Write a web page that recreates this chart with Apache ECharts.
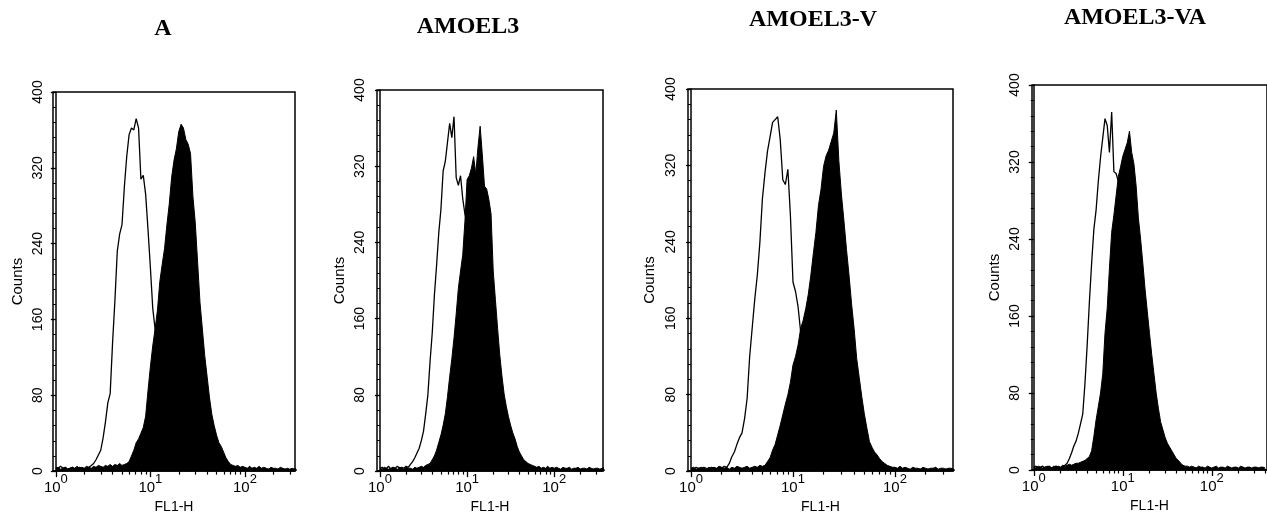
<!DOCTYPE html>
<html>
<head>
<meta charset="utf-8">
<script src="https://cdn.jsdelivr.net/npm/echarts@6/dist/echarts.min.js"></script>
<style>
  html, body { margin: 0; padding: 0; background: #fff; }
  #chart { width: 1267px; height: 519px; }
</style>
</head>
<body>
<div id="chart"></div>
<script>
// ---- Data ----
// bin positions on the FL1-H axis, as log10(FL1-H), 0.025 apart
const logFL1 = [
  0.000,0.025,0.050,0.075,0.100,0.125,0.150,0.175,0.200,0.225,
  0.250,0.275,0.300,0.325,0.350,0.375,0.400,0.425,0.450,0.475,
  0.500,0.525,0.550,0.575,0.600,0.625,0.650,0.675,0.700,0.725,
  0.750,0.775,0.800,0.825,0.850,0.875,0.900,0.925,0.950,0.975,
  1.000,1.025,1.050,1.075,1.100,1.125,1.150,1.175,1.200,1.225,
  1.250,1.275,1.300,1.325,1.350,1.375,1.400,1.425,1.450,1.475,
  1.500,1.525,1.550,1.575,1.600,1.625,1.650,1.675,1.700,1.725,
  1.750,1.775,1.800,1.825,1.850,1.875,1.900,1.925,1.950,1.975,
  2.000,2.025,2.050,2.075,2.100,2.125,2.150,2.175,2.200,2.225,
  2.250,2.275,2.300,2.325,2.350,2.375,2.400,2.425,2.450,2.475,
  2.500,2.525,2.550,2.575,2.600
];

const panelTitles = ['A', 'AMOEL3', 'AMOEL3-V', 'AMOEL3-VA'];

// open (control) histograms, counts per bin
const controlA = [
  4,3,5,3,4,2,3,4,2,3,
  4,3,2,3,4,6,8,12,17,22,
  35,52,72,82,135,180,232,250,260,300,
  332,355,362,360,372,362,308,312,292,255,
  215,172,150,130,112,98,85,72,62,52,
  45,37,30,25,20,16,12,10,8,6,
  5,3,2,3,2,3,2,3,2,1,
  2,1,2,1,2,1,2,1,1,2,
  1,2,1,1,2,1,1,2,1,1,
  2,1,1,1,2,1,1,2,1,1,
  1,2,1,1,1
];
const controlAMOEL3 = [
  3,4,2,3,5,2,4,3,5,3,
  4,3,5,4,7,10,14,19,24,32,
  42,60,80,115,145,185,216,250,275,315,
  325,345,365,350,372,308,300,310,286,270,
  260,245,230,215,200,185,170,155,140,125,
  110,95,80,70,58,48,40,32,25,20,
  15,12,9,7,6,5,4,3,3,2,
  3,2,3,2,1,2,1,2,1,2,
  1,2,1,1,2,1,2,1,1,2,
  1,1,2,1,1,2,1,1,2,1,
  1,1,2,1,1
];
const controlV = [
  3,2,4,3,2,4,3,2,4,3,
  2,4,3,5,4,8,15,20,28,35,
  40,55,76,120,150,180,205,239,285,312,
  335,350,365,368,371,347,305,300,316,267,
  198,188,172,146,125,110,95,82,70,60,
  50,42,35,29,24,19,15,12,10,8,
  6,4,3,2,3,2,1,2,1,2,
  1,2,1,1,2,1,2,1,1,2,
  1,1,2,1,2,1,1,2,1,1,
  2,1,1,2,1,1,2,1,1,1,
  2,1,1,1,1
];
const controlVA = [
  3,4,2,3,4,2,3,4,2,3,
  4,3,2,3,5,7,12,18,25,30,
  38,48,58,90,130,175,215,250,270,300,
  325,345,365,358,330,372,310,308,300,275,
  250,232,215,198,180,162,145,128,110,97,
  85,72,60,50,40,32,25,20,16,13,
  10,8,6,4,3,2,3,2,1,2,
  1,2,1,2,1,1,2,1,2,1,
  1,2,1,1,2,1,1,2,1,1,
  2,1,1,2,1,1,1,2,1,1,
  1,2,1,1,1
];

// filled (stained) histograms, counts per bin
const stainedA = [
  3,4,2,3,4,2,3,4,3,5,
  3,4,3,5,4,3,5,4,6,5,
  4,6,5,7,5,7,6,8,6,7,
  8,10,16,22,30,34,40,46,58,85,
  110,132,150,170,200,218,235,260,282,310,
  328,340,358,366,362,350,345,335,290,262,
  220,178,150,122,100,78,60,48,38,30,
  26,20,14,10,7,6,5,6,4,5,
  4,3,5,3,4,3,5,3,4,3,
  2,4,3,3,2,4,3,2,3,2,
  3,2,3,2,3
];
const stainedAMOEL3 = [
  3,2,4,3,2,3,4,3,2,4,
  3,2,4,3,3,2,4,3,4,5,
  4,6,7,8,12,16,22,30,38,48,
  60,78,99,118,140,165,192,210,227,262,
  306,310,318,330,312,340,362,332,299,296,
  285,270,210,180,150,122,100,81,68,57,
  48,40,34,26,20,16,12,10,8,7,
  6,5,4,5,3,4,3,5,3,4,
  3,4,3,2,4,3,3,4,2,3,
  3,4,2,3,3,2,4,3,2,3,
  3,2,3,4,2
];
const stainedV = [
  3,4,2,3,4,3,2,4,3,4,
  3,5,4,3,4,2,4,3,5,4,
  3,4,5,3,4,5,4,6,5,6,
  10,14,22,28,38,48,59,70,80,93,
  111,120,132,149,158,170,185,205,228,250,
  278,295,319,330,336,345,354,378,325,290,
  262,232,205,175,149,118,98,78,60,45,
  31,25,20,17,13,10,8,6,5,4,
  4,3,5,3,4,3,2,4,3,3,
  2,4,3,2,3,3,4,2,3,3,
  2,3,3,2,3
];
const stainedVA = [
  3,2,4,3,2,3,4,3,2,4,
  3,4,3,5,4,5,6,5,6,7,
  7,8,9,10,12,14,20,35,52,66,
  80,100,142,168,210,247,265,285,305,315,
  326,333,340,352,330,318,295,262,240,215,
  188,165,142,120,100,80,64,50,42,34,
  28,24,20,16,12,10,7,5,4,4,
  3,4,3,2,4,3,3,2,4,3,
  2,3,4,2,3,3,2,4,3,2,
  3,3,2,4,3,2,3,3,2,3,
  3,2,3,3,2
];

// axis ticks
const xDecadeTicks = [0, 1, 2];          // labelled 10^0, 10^1, 10^2
const xMinorMultipliers = [2,3,4,5,6,7,8,9];
const yTickMin = 0, yTickMax = 400, yTickStep = 80;

// ---- Layout ----
const controls = [controlA, controlAMOEL3, controlV, controlVA];
const stained  = [stainedA, stainedAMOEL3, stainedV, stainedVA];

const layouts = [
  { left: 53,   top: 92, width: 242, height: 385, xmin: -0.03,  xmax: 2.53, titleX: 163,  titleY: 29, labelMargin: 8,  nameGap: 28 },
  { left: 377,  top: 90, width: 226, height: 385, xmin: -0.034, xmax: 2.56, titleX: 468,  titleY: 27, labelMargin: 10, nameGap: 30 },
  { left: 688,  top: 89, width: 265, height: 384, xmin: -0.03,  xmax: 2.57, titleX: 813,  titleY: 20, labelMargin: 10, nameGap: 31 },
  { left: 1032, top: 85, width: 250, height: 385, xmin: -0.02,  xmax: 2.62, titleX: 1135, titleY: 18, labelMargin: 10, nameGap: 30 }
];

const sans = '"Liberation Sans", Arial, Helvetica, sans-serif';
const serif = '"Liberation Serif", "Times New Roman", serif';

const grids = [], xAxes = [], yAxes = [], series = [], graphics = [];

layouts.forEach((L, i) => {
  grids.push({
    left: L.left, top: L.top, width: L.width, height: L.height,
    show: true, borderColor: '#000', borderWidth: 1.5, backgroundColor: 'transparent',
    containLabel: false
  });

  const minorTicks = [];
  [1, 10, 100].forEach(d => xMinorMultipliers.forEach(m => {
    const v = Math.log10(m * d);
    if (v < L.xmax) minorTicks.push(v);
  }));

  // major x axis (decades, labels, name)
  xAxes.push({
    type: 'value', gridIndex: i, position: 'bottom', min: L.xmin, max: L.xmax,
    axisLine: { show: true, onZero: false, lineStyle: { color: '#000', width: 1.5 } },
    axisTick: { show: true, customValues: xDecadeTicks, length: 6, lineStyle: { color: '#000', width: 1.3 } },
    axisLabel: {
      show: true, customValues: xDecadeTicks, margin: 2,
      formatter: v => '{b|10}{s|' + Math.round(v) + '}',
      rich: {
        b: { fontSize: 15, fontFamily: sans, color: '#000', lineHeight: 22, verticalAlign: 'bottom' },
        s: { fontSize: 13, fontFamily: sans, color: '#000', lineHeight: 13, verticalAlign: 'top' }
      }
    },
    splitLine: { show: false },
    name: 'FL1-H', nameLocation: 'middle', nameGap: 26,
    nameTextStyle: { fontSize: 14, fontFamily: sans, color: '#000' }
  });
  // minor x axis (log minor ticks)
  xAxes.push({
    type: 'value', gridIndex: i, position: 'bottom', min: L.xmin, max: L.xmax,
    axisLine: { show: false, onZero: false },
    axisTick: { show: true, customValues: minorTicks, length: 3.5, lineStyle: { color: '#000', width: 1.2 } },
    axisLabel: { show: false },
    splitLine: { show: false }
  });

  yAxes.push({
    type: 'value', gridIndex: i, min: yTickMin, max: yTickMax, interval: yTickStep,
    axisLine: { show: true, lineStyle: { color: '#000', width: 1.5 } },
    axisTick: { show: true, length: 5, lineStyle: { color: '#000', width: 1.3 } },
    minorTick: { show: true, splitNumber: 5, length: 3, lineStyle: { color: '#000', width: 1 } },
    axisLabel: { rotate: 90, margin: L.labelMargin, fontSize: 14, fontFamily: sans, color: '#000' },
    splitLine: { show: false },
    name: 'Counts', nameLocation: 'middle', nameGap: L.nameGap, nameRotate: 90,
    nameTextStyle: { fontSize: 15, fontFamily: sans, color: '#000' }
  });

  series.push({
    type: 'line', xAxisIndex: i * 2, yAxisIndex: i, z: 2,
    data: logFL1.map((x, k) => [x, controls[i][k]]),
    symbol: 'none', lineStyle: { color: '#000', width: 1.3 }, clip: true
  });
  series.push({
    type: 'line', xAxisIndex: i * 2, yAxisIndex: i, z: 3,
    data: logFL1.map((x, k) => [x, stained[i][k]]),
    symbol: 'none', lineStyle: { color: '#000', width: 1 },
    areaStyle: { color: '#000', opacity: 1 }, clip: true
  });

  graphics.push({
    type: 'text', x: L.titleX, y: L.titleY,
    style: {
      text: panelTitles[i], fill: '#000',
      font: 'bold 24px ' + serif, textAlign: 'center', textVerticalAlign: 'middle'
    }
  });
});

const chart = echarts.init(document.getElementById('chart'), null, { renderer: 'canvas' });
chart.setOption({
  animation: false,
  backgroundColor: '#fff',
  grid: grids,
  xAxis: xAxes,
  yAxis: yAxes,
  series: series,
  graphic: graphics
});
</script>
</body>
</html>
